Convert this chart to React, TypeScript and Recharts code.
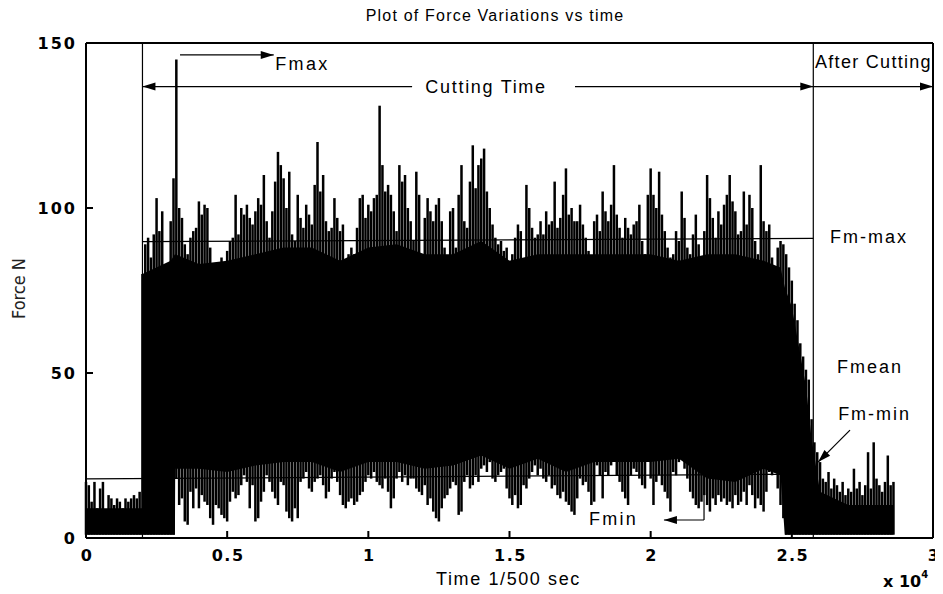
import React from 'react';
import {
  ComposedChart,
  Bar,
  Area,
  XAxis,
  YAxis,
  ReferenceLine,
  ReferenceDot,
} from 'recharts';

// ---------- DATA ----------
// Sample spacing along the time axis (units of 1e4 samples)
const SAMPLE_STEP = 0.01;

// Upper envelope of the force signal per sample (N)
const upperEnv: number[] = [
  17, 16, 11, 17, 9, 15, 17, 8, 13, 12, 10, 12, 11, 9, 12, 11, 12, 13, 12, 14,
  80, 89, 91, 85, 92, 103, 93, 99, 78, 80,
  96, 109, 145, 100, 97, 89, 86, 91, 93, 94,
  102, 98, 101, 100, 88, 80, 78, 82, 85, 83,
  87, 90, 91, 104, 92, 100, 98, 101, 97, 95,
  99, 103, 101, 110, 96, 91, 99, 108, 117, 113,
  109, 100, 111, 92, 90, 104, 97, 94, 101, 98,
  95, 107, 120, 105, 110, 96, 93, 94, 103, 97,
  93, 95, 78, 86, 88, 86, 94, 103, 104, 97,
  101, 99, 103, 104, 131, 113, 105, 107, 104, 99,
  93, 113, 108, 110, 100, 96, 90, 111, 104, 85,
  97, 103, 99, 96, 101, 103, 96, 88, 82, 99,
  100, 88, 104, 113, 96, 94, 108, 119, 106, 113,
  115, 118, 105, 100, 95, 91, 89, 90, 87, 88,
  84, 86, 91, 95, 93, 84, 107, 100, 94, 91,
  92, 96, 92, 99, 95, 96, 108, 94, 97, 104,
  112, 98, 100, 96, 96, 101, 95, 91, 87, 80,
  96, 98, 93, 105, 99, 96, 101, 113, 98, 94,
  91, 97, 94, 92, 95, 96, 101, 90, 86, 104,
  112, 104, 100, 111, 98, 93, 88, 85, 86, 93,
  90, 105, 97, 88, 86, 92, 98, 89, 85, 93,
  110, 103, 97, 91, 99, 95, 101, 104, 110, 102,
  99, 92, 93, 105, 95, 104, 100, 90, 86, 113,
  96, 93, 95, 85, 82, 88, 90, 89, 86, 82,
  78, 71, 66, 59, 55, 51, 48, 36, 29, 26,
  23, 18, 17, 20, 15, 18, 16, 14, 17, 13,
  15, 14, 21, 15, 17, 13, 16, 26, 15, 29,
  18, 16, 14, 17, 25, 16, 17,
];

// Lower envelope of the force signal per sample (N)
const lowerEnv: number[] = [
  1, 1, 1, 1, 1, 1, 1, 1, 1, 1, 1, 1, 1, 1, 1, 1, 1, 1, 1, 1,
  1, 1, 1, 1, 1, 1, 1, 1, 1, 1,
  1, 1, 18, 10, 12, 5, 4, 14, 9, 15,
  9, 13, 11, 10, 6, 4, 10, 9, 7, 6,
  5, 11, 14, 12, 13, 16, 19, 17, 9, 16,
  5, 6, 11, 14, 19, 17, 14, 12, 10, 17,
  16, 8, 6, 5, 9, 6, 17, 18, 20, 15,
  14, 17, 18, 19, 16, 12, 14, 18, 20, 17,
  13, 10, 9, 11, 12, 10, 11, 13, 14, 17,
  19, 18, 20, 17, 16, 15, 18, 14, 9, 12,
  18, 20, 17, 19, 16, 18, 18, 15, 14, 13,
  16, 10, 12, 8, 6, 5, 9, 12, 13, 15,
  17, 16, 7, 8, 17, 19, 15, 16, 19, 17,
  21, 22, 20, 23, 18, 17, 19, 20, 21, 15,
  12, 10, 13, 9, 10, 16, 15, 18, 20, 22,
  19, 21, 18, 17, 19, 15, 16, 13, 12, 14,
  11, 10, 8, 7, 12, 18, 16, 17, 14, 10,
  11, 22, 19, 12, 20, 19, 22, 26, 19, 17,
  14, 12, 10, 19, 21, 20, 18, 16, 15, 24,
  18, 10, 17, 19, 16, 14, 12, 8, 20, 19,
  23, 25, 21, 18, 14, 12, 10, 9, 11, 13,
  10, 8, 12, 10, 13, 11, 12, 10, 11, 9,
  13, 10, 11, 14, 10, 16, 13, 9, 12, 10,
  8, 14, 20, 19, 22, 15, 10, 6, 1, 1,
  1, 1, 1, 1, 1, 1, 1, 1, 1, 1,
  1, 1, 1, 1, 1, 1, 1, 1, 1, 1,
  1, 1, 1, 1, 1, 1, 1, 1, 1, 1,
  1, 1, 1, 1, 1, 1, 1,
];

// Solid (dense) core of the signal: time, bottom, top
const coreTime: number[] = [0, 0.1, 0.199, 0.2, 0.3, 0.315, 0.316, 0.4, 0.5, 0.6, 0.7, 0.8, 0.9, 1.0, 1.1, 1.2, 1.3, 1.4, 1.5, 1.6, 1.7, 1.8, 1.9, 2.0, 2.1, 2.2, 2.3, 2.4, 2.46, 2.475, 2.5, 2.55, 2.57, 2.6, 2.7, 2.8, 2.86];
const coreLow: number[] = [1, 1, 1, 1, 1, 1, 21, 21, 20, 22, 23, 23, 20, 23, 23, 21, 22, 25, 21, 24, 20, 23, 23, 23, 24, 18, 17, 21, 19, 1, 1, 1, 1, 1, 1, 1, 1];
const coreHigh: number[] = [9, 9, 9, 80, 84, 86, 86, 83, 84, 86, 88, 88, 84, 88, 89, 86, 86, 90, 84, 86, 86, 86, 86, 86, 84, 86, 86, 84, 82, 76, 70, 46, 30, 14, 10, 10, 10];

// Axis ticks
const xTicks: number[] = [0, 0.5, 1, 1.5, 2, 2.5, 3];
const xTickLabels: string[] = ['0', '0.5', '1', '1.5', '2', '2.5', '3'];
const yTicks: number[] = [0, 50, 100, 150];
const yTickLabels: string[] = ['0', '50', '100', '150'];

// Annotation positions (data units)
const CUT_START = 0.2;
const CUT_END = 2.576;
const ARROW_Y = 136.8;
const CUT_GAP_L = 1.155;
const CUT_GAP_R = 1.732;
const FMMAX_LINE = [{ x: 0.2, y: 89.8 }, { x: 2.576, y: 90.8 }];
const FMIN_LINE = [{ x: 0, y: 17.9 }, { x: 2.465, y: 19.3 }];
const FMAX_ARROW = [{ x: 0.333, y: 146.4 }, { x: 0.665, y: 146.4 }];
const FMMIN_ARROW = [{ x: 2.706, y: 32.7 }, { x: 2.593, y: 23.0 }];
const FMIN_BRACKET_H = [{ x: 2.189, y: 5.45 }, { x: 2.047, y: 5.45 }];
const FMIN_BRACKET_V = [{ x: 2.189, y: 5.45 }, { x: 2.189, y: 19.2 }];

// ---------- derived tables ----------
const signalData = upperEnv.map((hi, i) => ({
  t: Math.round(i * SAMPLE_STEP * 1000) / 1000,
  range: [lowerEnv[i], hi],
}));
const coreData = coreTime.map((t, i) => ({ t, core: [coreLow[i], coreHigh[i]] }));

// ---------- helpers ----------
const ANN_FONT = "'Liberation Sans', Arial, Helvetica, sans-serif";
const TICK_FONT = "'DejaVu Sans', Verdana, sans-serif";

const arrowHead = (angleDeg: number) => (p: any) => {
  const { cx, cy } = p;
  const a = (angleDeg * Math.PI) / 180;
  const L = 13;
  const W = 4;
  const bx = cx - L * Math.cos(a);
  const by = cy - L * Math.sin(a);
  const nx = -Math.sin(a) * W;
  const ny = Math.cos(a) * W;
  return (
    <polygon
      points={`${cx},${cy} ${bx + nx},${by + ny} ${bx - nx},${by - ny}`}
      fill="#000"
    />
  );
};

const textShape = (text: string, anchor: 'start' | 'middle' | 'end', spacing = 2) => (p: any) => (
  <text
    x={p.cx}
    y={p.cy}
    textAnchor={anchor}
    fontSize={18}
    letterSpacing={spacing}
    fontFamily={ANN_FONT}
    fill="#000"
  >
    {text}
  </text>
);

const SpikeShape = (props: any) => {
  const { x, y, width, height } = props;
  if (height == null || isNaN(height)) return null;
  const cx = x + width / 2;
  return <rect x={cx - 1.25} y={y} width={2.5} height={Math.max(height, 1)} fill="#000" />;
};

const XTick = (props: any) => {
  const { x, y, payload } = props;
  const idx = xTicks.indexOf(payload.value);
  return (
    <text
      x={x + 1}
      y={y + 12}
      textAnchor="middle"
      fontSize={16}
      fontWeight="bold"
      letterSpacing={1.5}
      fontFamily={TICK_FONT}
      fill="#000"
    >
      {idx >= 0 ? xTickLabels[idx] : String(payload.value)}
    </text>
  );
};

const YTick = (props: any) => {
  const { x, y, payload } = props;
  const idx = yTicks.indexOf(payload.value);
  return (
    <text
      x={x}
      y={y + 6}
      textAnchor="end"
      fontSize={16}
      fontWeight="bold"
      letterSpacing={2}
      fontFamily={TICK_FONT}
      fill="#000"
    >
      {idx >= 0 ? yTickLabels[idx] : String(payload.value)}
    </text>
  );
};

const W = 935;
const H = 586;
const axisStroke = { stroke: '#000', strokeWidth: 2 };

export default function App() {
  return (
    <div style={{ position: 'relative', width: W, height: H, background: '#fff' }}>
      <ComposedChart
        width={W}
        height={H}
        data={signalData}
        margin={{ top: 25, right: 0, bottom: 16, left: 8 }}
      >
        <XAxis
          dataKey="t"
          type="number"
          domain={[0, 3]}
          ticks={xTicks}
          interval={0}
          height={40}
          tickSize={-7}
          tickMargin={18}
          axisLine={axisStroke}
          tickLine={axisStroke}
          tick={<XTick />}
        />
        <XAxis
          xAxisId="top"
          orientation="top"
          type="number"
          domain={[0, 3]}
          ticks={xTicks}
          interval={0}
          height={10}
          tickSize={-7}
          axisLine={axisStroke}
          tickLine={axisStroke}
          tick={false}
        />
        <YAxis
          type="number"
          domain={[0, 150]}
          ticks={yTicks}
          interval={0}
          width={70}
          tickSize={-7}
          tickMargin={16}
          axisLine={axisStroke}
          tickLine={axisStroke}
          tick={<YTick />}
        />
        <YAxis
          yAxisId="r"
          orientation="right"
          type="number"
          domain={[0, 150]}
          ticks={yTicks}
          interval={0}
          width={10}
          tickSize={-7}
          axisLine={axisStroke}
          tickLine={axisStroke}
          tick={false}
        />

        <Area
          data={coreData}
          dataKey="core"
          type="linear"
          stroke="none"
          fill="#000"
          fillOpacity={1}
          isAnimationActive={false}
        />
        <Bar
          dataKey="range"
          fill="#000"
          barSize={3}
          shape={<SpikeShape />}
          isAnimationActive={false}
        />

        <ReferenceLine x={CUT_START} stroke="#000" strokeWidth={1.2} />
        <ReferenceLine x={CUT_END} stroke="#000" strokeWidth={1.2} />
        <ReferenceLine segment={FMMAX_LINE} stroke="#000" strokeWidth={1.3} />
        <ReferenceLine segment={FMIN_LINE} stroke="#000" strokeWidth={1.3} />

        {/* Cutting time arrow */}
        <ReferenceLine segment={[{ x: CUT_START, y: ARROW_Y }, { x: CUT_GAP_L, y: ARROW_Y }]} stroke="#000" strokeWidth={1.2} />
        <ReferenceLine segment={[{ x: CUT_GAP_R, y: ARROW_Y }, { x: CUT_END, y: ARROW_Y }]} stroke="#000" strokeWidth={1.2} />
        <ReferenceDot x={CUT_START} y={ARROW_Y} r={1} shape={arrowHead(180)} />
        <ReferenceDot x={CUT_END} y={ARROW_Y} r={1} shape={arrowHead(0)} />
        {/* After cutting arrow */}
        <ReferenceLine segment={[{ x: CUT_END, y: ARROW_Y }, { x: 3, y: ARROW_Y }]} stroke="#000" strokeWidth={1.2} />
        <ReferenceDot x={3} y={ARROW_Y} r={1} shape={arrowHead(0)} />
        {/* Fmax arrow */}
        <ReferenceLine segment={FMAX_ARROW} stroke="#000" strokeWidth={1.2} />
        <ReferenceDot x={FMAX_ARROW[1].x} y={FMAX_ARROW[1].y} r={1} shape={arrowHead(0)} />
        {/* Fm-min arrow */}
        <ReferenceLine segment={FMMIN_ARROW} stroke="#000" strokeWidth={1.2} />
        <ReferenceDot x={FMMIN_ARROW[1].x} y={FMMIN_ARROW[1].y} r={1} shape={arrowHead(135)} />
        {/* Fmin bracket arrow */}
        <ReferenceLine segment={FMIN_BRACKET_H} stroke="#000" strokeWidth={1.2} />
        <ReferenceLine segment={FMIN_BRACKET_V} stroke="#000" strokeWidth={1.2} />
        <ReferenceDot x={FMIN_BRACKET_H[1].x} y={FMIN_BRACKET_H[1].y} r={1} shape={arrowHead(180)} />

        {/* Text annotations */}
        <ReferenceDot x={0.67} y={141.8} r={1} shape={textShape('Fmax', 'start', 2.4)} />
        <ReferenceDot x={1.417} y={134.8} r={1} shape={textShape('Cutting Time', 'middle', 1.7)} />
        <ReferenceDot x={2.582} y={142.4} r={1} shape={textShape('After Cutting', 'start', 1.3)} />
        <ReferenceDot x={2.635} y={89.4} r={1} shape={textShape('Fm-max', 'start', 2)} />
        <ReferenceDot x={2.66} y={50} r={1} shape={textShape('Fmean', 'start', 2)} />
        <ReferenceDot x={2.664} y={35.8} r={1} shape={textShape('Fm-min', 'start', 2)} />
        <ReferenceDot x={1.782} y={3.9} r={1} shape={textShape('Fmin', 'start', 2.2)} />
      </ComposedChart>

      <svg
        width={W}
        height={H}
        style={{ position: 'absolute', left: 0, top: 0, pointerEvents: 'none' }}
      >
        <text
          x={487}
          y={13}
          textAnchor="middle"
          fontSize={16}
          letterSpacing={1.2}
          fontFamily={ANN_FONT}
          fill="#000"
        >
          Plot of Force Variations vs time
        </text>
        <text
          x={500.5}
          y={577}
          textAnchor="middle"
          fontSize={18}
          letterSpacing={1.6}
          fontFamily={ANN_FONT}
          fill="#000"
        >
          Time 1/500 sec
        </text>
        <text
          x={17}
          y={280.5}
          textAnchor="middle"
          fontSize={18}
          fontFamily="'Liberation Sans Narrow', 'DejaVu Sans Condensed', sans-serif"
          fill="#222"
          transform="rotate(-90 17 280.5)"
        >
          Force N
        </text>
        <text
          x={875}
          y={579}
          fontSize={16}
          fontWeight="bold"
          fontFamily={TICK_FONT}
          fill="#000"
        >
          x 10
          <tspan dy={-9} fontSize={10}>4</tspan>
        </text>
      </svg>
    </div>
  );
}
